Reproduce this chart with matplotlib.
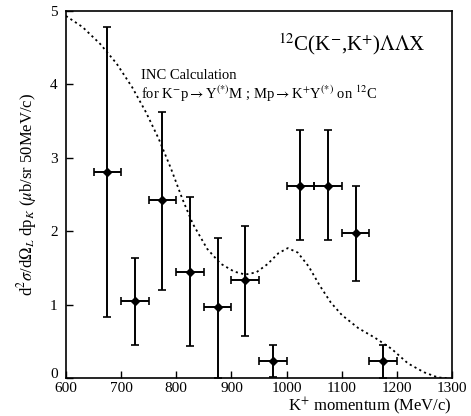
import matplotlib
matplotlib.use("Agg")
import matplotlib.pyplot as plt
import matplotlib.transforms as mtransforms
import numpy as np

# measured spectrum
momentum = [675, 725, 775, 825, 875, 925, 975, 1025, 1075, 1125, 1175]
xsec = [2.80, 1.05, 2.42, 1.45, 0.97, 1.33, 0.24, 2.62, 2.62, 1.97, 0.24]
err_hi = [1.98, 0.58, 1.20, 1.01, 0.94, 0.74, 0.21, 0.76, 0.76, 0.65, 0.21]
err_lo = [1.97, 0.60, 1.22, 1.01, 0.97, 0.75, 0.22, 0.74, 0.74, 0.65, 0.24]
bin_half = [25] * len(momentum)

# INC calculation (dotted curve)
inc_p = [600, 630, 662, 692, 720, 745, 768, 790, 811, 830, 856, 880, 905, 925,
         945, 965, 985, 1002, 1020, 1040, 1060, 1080, 1100, 1130, 1160, 1190,
         1220, 1249, 1274, 1290]
inc_y = [4.93, 4.78, 4.55, 4.28, 3.96, 3.62, 3.26, 2.86, 2.44, 2.10, 1.76, 1.56,
         1.45, 1.41, 1.44, 1.55, 1.70, 1.77, 1.71, 1.52, 1.26, 1.03, 0.86, 0.68,
         0.55, 0.40, 0.20, 0.08, 0.01, 0.0]

plt.rcParams["font.family"] = ["Liberation Serif", "DejaVu Serif"]
plt.rcParams["mathtext.fontset"] = "stix"

fig = plt.figure(figsize=(4.71, 4.16), dpi=100)
ax = fig.add_axes([0.140, 0.091, 0.820, 0.883])

ax.plot(inc_p, inc_y, linestyle=(0, (1.2, 1.8)), color="black", linewidth=1.3)
ax.errorbar(momentum, xsec, yerr=[err_lo, err_hi], xerr=bin_half,
            fmt="D", color="black", markersize=4.5, elinewidth=1.4,
            capsize=3, capthick=1.2)

ax.set_xlim(600, 1300)
ax.set_ylim(0, 5)
ax.set_xticks(range(600, 1301, 100))
ax.set_yticks(range(0, 6))
ax.tick_params(direction="in", length=5, width=1, labelsize=11)
ax.tick_params(axis="x", pad=3)
ax.tick_params(axis="y", pad=6)
for s in ax.spines.values():
    s.set_linewidth(1.2)

# the "0" sits a bit higher, clear of the "600"
fig.canvas.draw()
zero_lbl = ax.get_yticklabels()[0]
zero_lbl.set_transform(zero_lbl.get_transform() +
                       mtransforms.ScaledTranslation(0, 4 / 72, fig.dpi_scale_trans))

ax.set_xlabel(r"K$^{+}$ momentum (MeV/c)", fontsize=12, loc="right", labelpad=0)
ax.set_ylabel(r"d$^2\sigma$/d$\Omega_L$ dp$_K$ ($\mu$b/sr 50MeV/c)", fontsize=12,
              labelpad=8)

ax.text(0.93, 0.91, r"$^{12}$C(K$^{-}$,K$^{+}$)$\Lambda\Lambda$X",
        transform=ax.transAxes, ha="right", va="center", fontsize=15)
ax.text(0.195, 0.825, "INC Calculation", transform=ax.transAxes,
        ha="left", va="center", fontsize=10.5)
ax.text(0.195, 0.775,
        r"for K$^{-}$p$\rightarrow$Y$^{(*)}$M ; Mp$\rightarrow$K$^{+}$Y$^{(*)}$ on $^{12}$C",
        transform=ax.transAxes, ha="left", va="center", fontsize=10.5)

fig.savefig("out.png", dpi=100)
